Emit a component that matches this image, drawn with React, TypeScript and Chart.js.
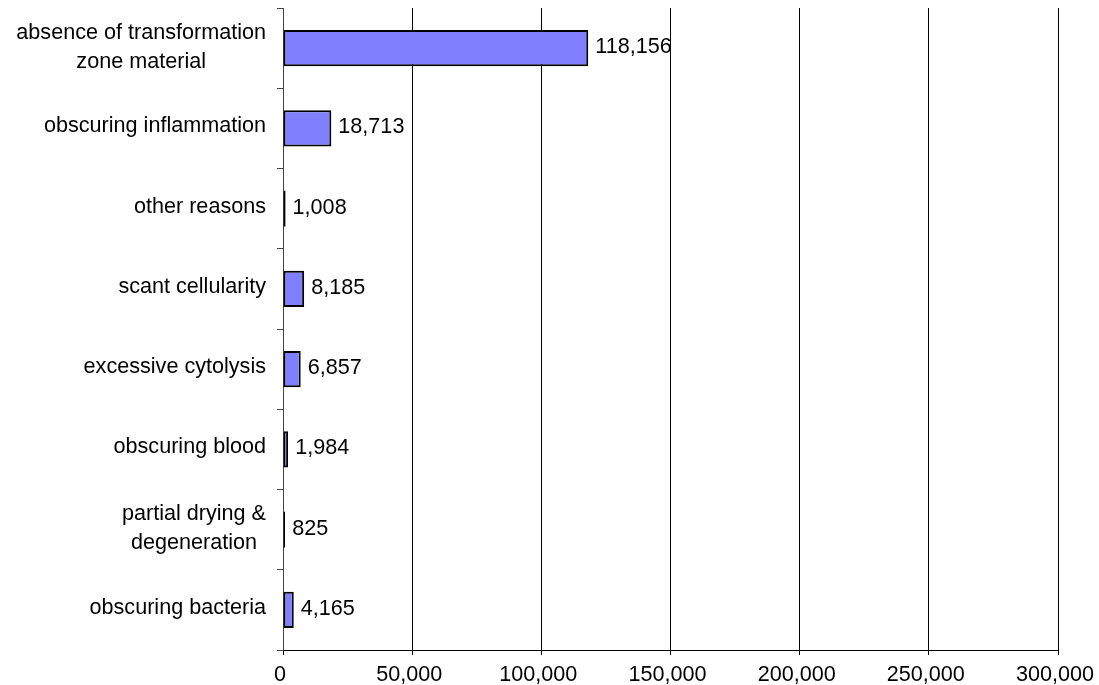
import { useEffect, useRef } from "react";
import { Chart, registerables } from "chart.js";

Chart.register(...registerables);

const categories: (string | string[])[] = [
  ["absence of transformation", "zone material"],
  "obscuring inflammation",
  "other reasons",
  "scant cellularity",
  "excessive cytolysis",
  "obscuring blood",
  ["partial drying &", "degeneration"],
  "obscuring bacteria",
];
const counts = [118156, 18713, 1008, 8185, 6857, 1984, 825, 4165];
const xMin = 0;
const xMax = 300000;
const xStep = 50000;

const FONT_FAMILY = '"Liberation Sans", Arial, sans-serif';
const FONT_SIZE = 21.6;

const fmt = (v: number) => Number(v).toLocaleString("en-US");

const yLabelPlugin = {
  id: "yLabels",
  afterDraw(chart: any) {
    const { ctx, chartArea } = chart;
    const yScale = chart.scales.y;
    ctx.save();
    ctx.font = `${FONT_SIZE}px ${FONT_FAMILY}`;
    ctx.fillStyle = "#000";
    ctx.textAlign = "center";
    ctx.textBaseline = "middle";
    const right = chartArea.left - 17;
    const lineH = 29;
    categories.forEach((lab, i) => {
      const lines = Array.isArray(lab) ? lab : [lab];
      const maxW = Math.max(...lines.map((l) => ctx.measureText(l).width));
      const cy = yScale.getPixelForValue(i) - 2 + (lines.length > 1 ? 1 : 0);
      const cx = right - maxW / 2;
      lines.forEach((l, j) => {
        ctx.fillText(l, cx, cy + (j - (lines.length - 1) / 2) * lineH);
      });
    });
    ctx.restore();
  },
};

const valueLabelPlugin = {
  id: "valueLabels",
  afterDatasetsDraw(chart: any) {
    const { ctx } = chart;
    const meta = chart.getDatasetMeta(0);
    ctx.save();
    ctx.font = `${FONT_SIZE}px ${FONT_FAMILY}`;
    ctx.fillStyle = "#000";
    ctx.textAlign = "left";
    ctx.textBaseline = "middle";
    meta.data.forEach((bar: any, i: number) => {
      ctx.fillText(fmt(counts[i]), bar.x + 7, bar.y - 1);
    });
    ctx.restore();
  },
};

export default function App() {
  const ref = useRef<HTMLCanvasElement | null>(null);

  useEffect(() => {
    if (!ref.current) return;
    const chart = new Chart(ref.current, {
      type: "bar",
      data: {
        labels: categories.map((c) => (Array.isArray(c) ? c.join(" ") : c)),
        datasets: [
          {
            data: counts,
            backgroundColor: "#8080FF",
            borderColor: "#000000",
            borderWidth: 2,
            borderSkipped: false,
            barPercentage: 0.45,
            categoryPercentage: 1,
          },
        ],
      },
      options: {
        indexAxis: "y",
        animation: false,
        responsive: true,
        maintainAspectRatio: false,
        layout: { padding: { top: 8, right: 41, left: 0, bottom: 0 } },
        plugins: {
          legend: { display: false },
          tooltip: { enabled: false },
        },
        scales: {
          x: {
            type: "linear",
            min: xMin,
            max: xMax,
            ticks: {
              stepSize: xStep,
              color: "#000",
              padding: 7,
              labelOffset: -3,
              font: { family: FONT_FAMILY, size: FONT_SIZE },
              callback: (v: any) => fmt(v),
              maxRotation: 0,
            },
            grid: {
              color: "#000",
              lineWidth: 1,
              tickLength: 5,
            },
            border: { display: true, color: "#000", width: 1 },
            afterFit: (s: any) => {
              s.height = 35;
              s.paddingLeft = 0;
              s.paddingRight = 0;
            },
          },
          y: {
            type: "category",
            offset: true,
            ticks: {
              color: "rgba(0,0,0,0)",
              font: { family: FONT_FAMILY, size: FONT_SIZE },
            },
            grid: {
              offset: true,
              drawOnChartArea: false,
              drawTicks: true,
              tickLength: 6,
              color: "#444",
            },
            border: { display: true, color: "#444", width: 1 },
            afterFit: (s: any) => {
              s.width = 283;
              s.paddingTop = 0;
              s.paddingBottom = 0;
            },
          },
        },
      } as any,
      plugins: [yLabelPlugin, valueLabelPlugin],
    });
    return () => chart.destroy();
  }, []);

  return (
    <div
      style={{
        position: "fixed",
        left: 0,
        top: 0,
        width: 1099,
        height: 685,
        background: "#fff",
      }}
    >
      <canvas ref={ref} />
    </div>
  );
}
